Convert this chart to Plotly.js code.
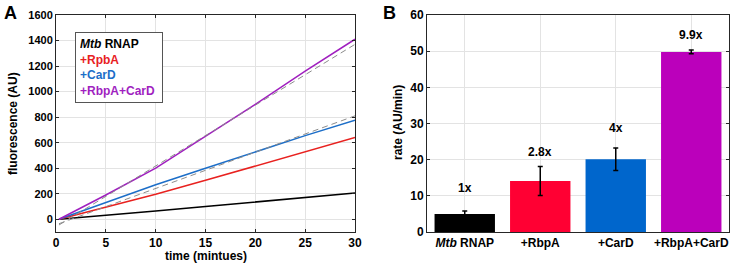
<!DOCTYPE html>
<html>
<head>
<meta charset="utf-8">
<script src="https://cdn.plot.ly/plotly-3.0.1.min.js"></script>
<style>html,body{margin:0;padding:0;background:#fff;}#chart{width:731px;height:263px;}</style>
</head>
<body>
<div id="chart"></div>
<script>
// ---- Panel A data: fluorescence vs time ----
const time = [0.3, 5, 10, 15, 20, 25, 30];
const mtbRNAP = [0, 30, 65, 100, 135, 170, 205];
const rbpA = [0, 95, 195, 305, 415, 525, 640];
const carD = [0, 130, 270, 400, 530, 655, 775];
const rbpACarD = [0, 190, 400, 650, 900, 1160, 1410];
const fitTime = [0.3, 30];
const fitCarD = [-35, 810];
const fitRbpACarD = [-45, 1370];
const xTicksA = [0, 5, 10, 15, 20, 25, 30];
const yTicksA = [0, 200, 400, 600, 800, 1000, 1200, 1400, 1600];

// ---- Panel B data: rates ----
const categories = ['Mtb RNAP', '+RbpA', '+CarD', '+RbpA+CarD'];
const tickLabels = ['<b><i>Mtb</i> RNAP</b>', '<b>+RbpA</b>', '<b>+CarD</b>', '<b>+RbpA+CarD</b>'];
const rates = [5.0, 14.1, 20.1, 49.8];
const rateErr = [0.8, 4.0, 3.1, 0.5];
const foldLabels = ['1x', '2.8x', '4x', '9.9x'];
const foldLabelY = [12.1, 22.2, 28.7, 54.4];
const yTicksB = [0, 10, 20, 30, 40, 50, 60];

const FONT = 'Liberation Sans, Arial, Helvetica, sans-serif';
const lineColors = ['#000000', '#e8211f', '#1c6ec8', '#a01fbf'];
const barColors = ['#000000', '#ff0033', '#0066cc', '#bb00bb'];
const bold = arr => arr.map(v => '<b>' + v + '</b>');

const traces = [];
[mtbRNAP, rbpA, carD, rbpACarD].forEach((ys, i) => {
  traces.push({x: time, y: ys, type: 'scatter', mode: 'lines', xaxis: 'x', yaxis: 'y',
    line: {color: lineColors[i], width: 1.5}, showlegend: false, hoverinfo: 'skip'});
});
[fitCarD, fitRbpACarD].forEach(ys => {
  traces.push({x: fitTime, y: ys, type: 'scatter', mode: 'lines', xaxis: 'x', yaxis: 'y',
    line: {color: '#8c8c8c', width: 1, dash: '6px,4px'}, showlegend: false, hoverinfo: 'skip'});
});
traces.push({x: categories, y: rates, type: 'bar', xaxis: 'x2', yaxis: 'y2',
  width: 0.8, marker: {color: barColors, line: {width: 0}},
  error_y: {type: 'data', array: rateErr, visible: true, color: '#000', thickness: 1.5, width: 2.5},
  showlegend: false, hoverinfo: 'skip'});

const axisCommon = {
  showline: true, linecolor: '#262626', linewidth: 1, mirror: 'ticks',
  ticks: 'inside', ticklen: 3, tickcolor: '#262626',
  showgrid: true, gridcolor: '#e3e3e3', gridwidth: 1, zeroline: false,
  tickfont: {family: FONT, size: 12, color: '#000'}, automargin: false
};

const annotations = [
  {text: '<b>A</b>', x: 2, y: 13, showarrow: false, xanchor: 'left', yanchor: 'middle', font: {family: FONT, size: 18, color: '#000'}},
  {text: '<b>B</b>', x: 381, y: 13, showarrow: false, xanchor: 'left', yanchor: 'middle', font: {family: FONT, size: 18, color: '#000'}},
  {text: '<b>fluorescence (AU)</b>', x: 13, y: 124, textangle: -90, showarrow: false, xanchor: 'center', yanchor: 'middle', font: {family: FONT, size: 12, color: '#000'}},
  {text: '<b>time (mintues)</b>', x: 206, y: 256, showarrow: false, xanchor: 'center', yanchor: 'middle', font: {family: FONT, size: 12, color: '#000'}},
  {text: '<b>rate (AU/min)</b>', x: 398, y: 123, textangle: -90, showarrow: false, xanchor: 'center', yanchor: 'middle', font: {family: FONT, size: 12, color: '#000'}},
  {text: '<b><i>Mtb</i> RNAP</b><br><b><span style="color:' + lineColors[1] + '">+RpbA</span></b><br><b><span style="color:' + lineColors[2] + '">+CarD</span></b><br><b><span style="color:' + lineColors[3] + '">+RbpA+CarD</span></b>',
   x: 75, y: 32, showarrow: false, xanchor: 'left', yanchor: 'top', align: 'left',
   bordercolor: '#555', borderwidth: 1, borderpad: 4, bgcolor: '#fff', width: 78,
   font: {family: FONT, size: 12, color: '#000'}}
];
annotations.forEach(a => { a.xref = 'paper'; a.yref = 'paper'; a.x = a.x / 731; a.y = 1 - a.y / 263; });
foldLabels.forEach((t, i) => {
  annotations.push({text: '<b>' + t + '</b>', x: categories[i], y: foldLabelY[i], xref: 'x2', yref: 'y2',
    showarrow: false, font: {family: FONT, size: 12, color: '#000'}});
});

const yBottom = 1 - 232 / 263, yTop = 1 - 15 / 263;
const layout = {
  width: 731, height: 263, margin: {l: 0, r: 0, t: 0, b: 0},
  paper_bgcolor: '#fff', plot_bgcolor: '#fff', showlegend: false,
  font: {family: FONT},
  xaxis: Object.assign({}, axisCommon, {domain: [56 / 731, 355 / 731], range: [0, 30], anchor: 'y',
    tickmode: 'array', tickvals: xTicksA, ticktext: bold(xTicksA)}),
  yaxis: Object.assign({}, axisCommon, {domain: [yBottom, yTop], range: [-100, 1600], anchor: 'x',
    tickmode: 'array', tickvals: yTicksA, ticktext: bold(yTicksA),
    tickfont: {family: FONT, size: 11, color: '#000'}}),
  xaxis2: Object.assign({}, axisCommon, {domain: [427 / 731, 729 / 731], anchor: 'y2', type: 'category',
    categoryorder: 'array', categoryarray: categories, tickvals: categories, ticktext: tickLabels, ticks: ''}),
  yaxis2: Object.assign({}, axisCommon, {domain: [yBottom, yTop], range: [0, 60], anchor: 'x2',
    tickmode: 'array', tickvals: yTicksB, ticktext: bold(yTicksB)}),
  annotations: annotations,
  bargap: 0.2
};

Plotly.newPlot('chart', traces, layout, {staticPlot: true, displayModeBar: false});
</script>
</body>
</html>
